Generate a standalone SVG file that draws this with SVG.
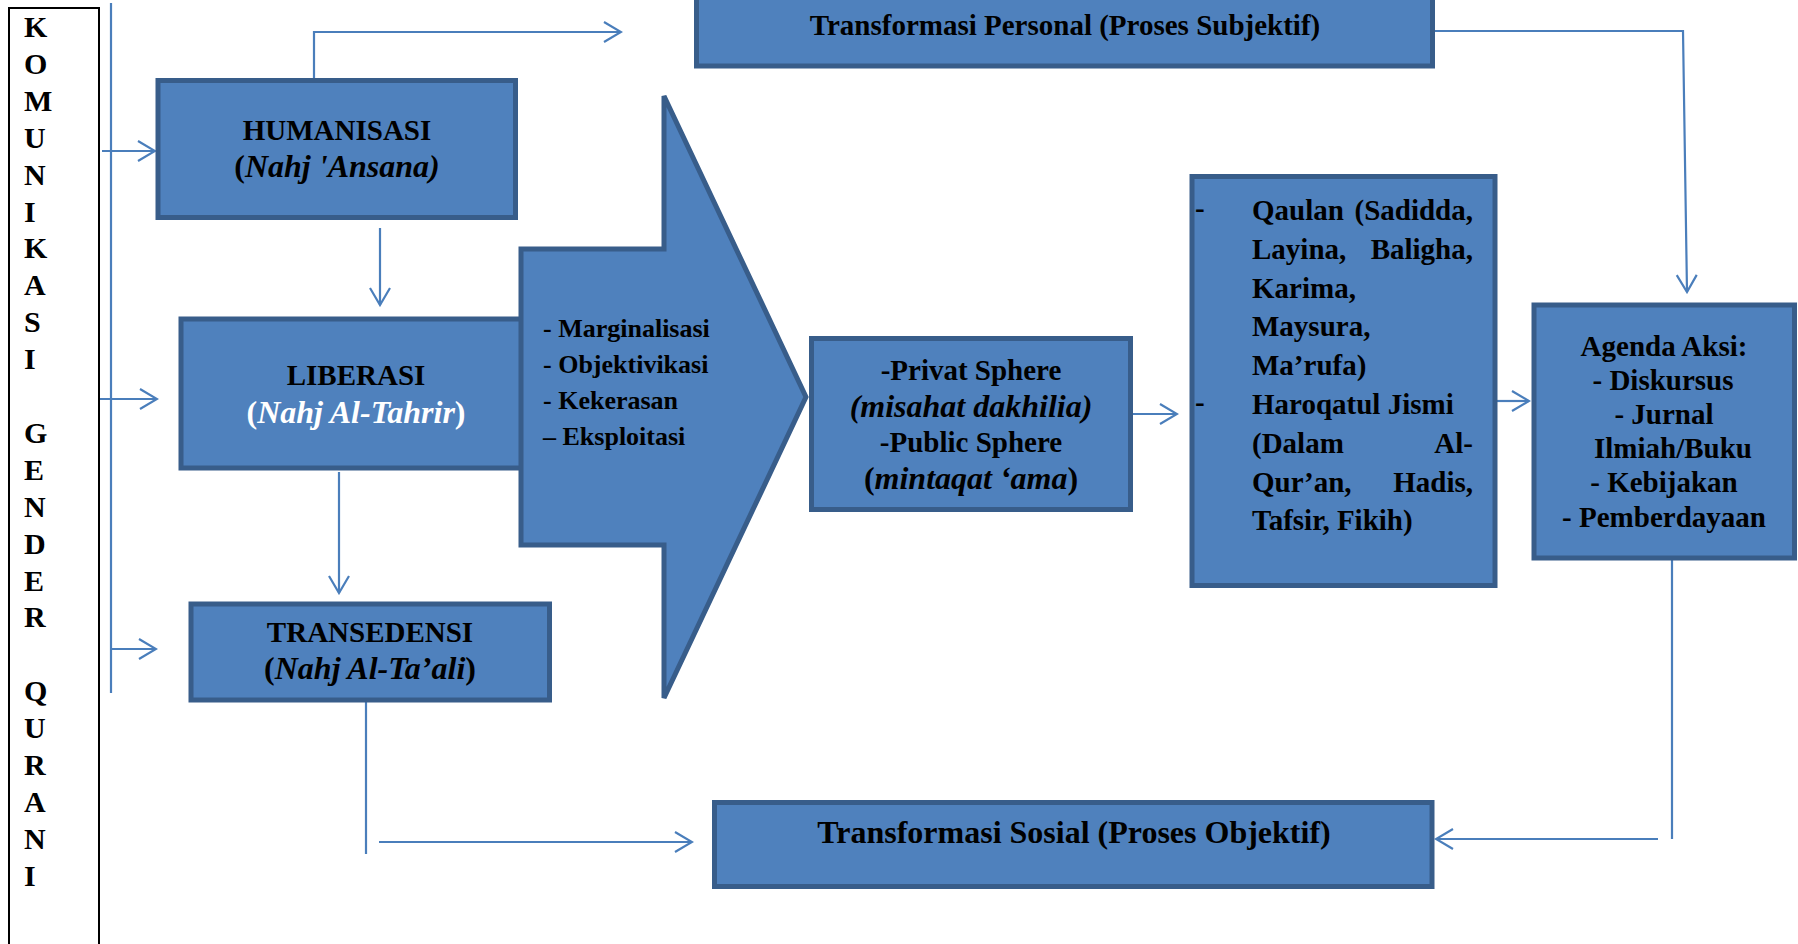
<svg xmlns="http://www.w3.org/2000/svg" width="1798" height="944" viewBox="0 0 1798 944">
<style>
.box{fill:#4F81BD;stroke:#385D8A;stroke-width:5}
.con{fill:none;stroke:#4A7EBB;stroke-width:2.2}
.t{font-family:"Liberation Serif","Times New Roman",serif;font-weight:bold;fill:#000}
.c{text-anchor:middle}
.e{text-anchor:end}
.i{font-style:italic}
.v{font-size:30px}
</style>
<defs>
<marker id="arr" viewBox="-20 -12 22 24" refX="0" refY="0" markerWidth="22" markerHeight="24" markerUnits="userSpaceOnUse" orient="auto">
<path d="M-17,-10 L0,0 L-17,10" fill="none" stroke="#4A7EBB" stroke-width="2.2"/>
</marker>
</defs>
<rect width="1798" height="944" fill="#fff"/>

<g id="side-label">
<rect x="9" y="8" width="90" height="960" fill="none" stroke="#000" stroke-width="2"/>
<text class="t v" x="24" y="37">K</text>
<text class="t v" x="24" y="73.9">O</text>
<text class="t v" x="24" y="110.8">M</text>
<text class="t v" x="24" y="147.7">U</text>
<text class="t v" x="24" y="184.6">N</text>
<text class="t v" x="24" y="221.5">I</text>
<text class="t v" x="24" y="258.4">K</text>
<text class="t v" x="24" y="295.3">A</text>
<text class="t v" x="24" y="332.2">S</text>
<text class="t v" x="24" y="369.1">I</text>
<text class="t v" x="24" y="442.9">G</text>
<text class="t v" x="24" y="479.8">E</text>
<text class="t v" x="24" y="516.7">N</text>
<text class="t v" x="24" y="553.6">D</text>
<text class="t v" x="24" y="590.5">E</text>
<text class="t v" x="24" y="627.4">R</text>
<text class="t v" x="24" y="701.2">Q</text>
<text class="t v" x="24" y="738.1">U</text>
<text class="t v" x="24" y="775">R</text>
<text class="t v" x="24" y="811.9">A</text>
<text class="t v" x="24" y="848.8">N</text>
<text class="t v" x="24" y="885.7">I</text>
</g>

<g id="connectors">
<line class="con" x1="111" y1="3" x2="111" y2="693"/>
<line class="con" x1="102" y1="151" x2="155" y2="151" marker-end="url(#arr)"/>
<line class="con" x1="100" y1="399" x2="157" y2="399" marker-end="url(#arr)"/>
<line class="con" x1="111" y1="649" x2="156" y2="649" marker-end="url(#arr)"/>
<line class="con" x1="380" y1="228" x2="380" y2="305" marker-end="url(#arr)"/>
<line class="con" x1="339" y1="472" x2="339" y2="593" marker-end="url(#arr)"/>
<path class="con" d="M314,78 V32 H621" marker-end="url(#arr)"/>
<path class="con" d="M1435,31 H1683 L1687,292" marker-end="url(#arr)"/>
<line class="con" x1="1133" y1="414" x2="1177" y2="414" marker-end="url(#arr)"/>
<line class="con" x1="1497" y1="401" x2="1529" y2="401" marker-end="url(#arr)"/>
<line class="con" x1="1672" y1="560" x2="1672" y2="839"/>
<line class="con" x1="1658" y1="839" x2="1436" y2="839" marker-end="url(#arr)"/>
<line class="con" x1="366" y1="702" x2="366" y2="854"/>
<line class="con" x1="379" y1="842" x2="692" y2="842" marker-end="url(#arr)"/>
</g>

<g id="personal">
<rect class="box" x="696.5" y="-10" width="736" height="76"/>
<text class="t c" x="1065" y="35" font-size="29">Transformasi Personal (Proses Subjektif)</text>
</g>

<g id="humanisasi">
<rect class="box" x="158" y="80.5" width="357.5" height="137"/>
<text class="t c" x="337" y="140" font-size="29">HUMANISASI</text>
<text class="t c" x="337" y="177" font-size="32">(<tspan class="i">Nahj 'Ansana)</tspan></text>
</g>

<g id="liberasi">
<rect class="box" x="181" y="319" width="352" height="149"/>
<text class="t c" x="356" y="385" font-size="29">LIBERASI</text>
<text class="t c" x="356" y="423" font-size="32" style="fill:#fff">(<tspan class="i">Nahj Al-Tahrir</tspan>)</text>
</g>

<g id="transedensi">
<rect class="box" x="191" y="604" width="358.5" height="96"/>
<text class="t c" x="370" y="642" font-size="29">TRANSEDENSI</text>
<text class="t c" x="370" y="679" font-size="32">(<tspan class="i">Nahj Al-Ta’ali</tspan>)</text>
</g>

<g id="problems">
<polygon class="box" points="521,249 664,249 664,96 806,397 664,698 664,545 521,545"/>
<text class="t" x="543" y="337" font-size="26">- Marginalisasi</text>
<text class="t" x="543" y="373" font-size="26">- Objektivikasi</text>
<text class="t" x="543" y="409" font-size="26">- Kekerasan</text>
<text class="t" x="543" y="445" font-size="26">– Eksploitasi</text>
</g>

<g id="sphere">
<rect class="box" x="811.5" y="338.5" width="319" height="171"/>
<text class="t c" x="971" y="380" font-size="29">-Privat Sphere</text>
<text class="t c i" x="971" y="417" font-size="32">(misahat dakhilia)</text>
<text class="t c" x="971" y="452" font-size="29">-Public Sphere</text>
<text class="t c" x="971" y="489" font-size="32">(<tspan class="i">mintaqat ‘ama</tspan>)</text>
</g>

<g id="qaulan">
<rect class="box" x="1192" y="176.5" width="303" height="409"/>
<g font-size="29">
<text class="t" x="1195" y="218">-</text>
<text class="t" x="1252" y="220">Qaulan</text>
<text class="t e" x="1473" y="220">(Sadidda,</text>
<text class="t" x="1252" y="258.8">Layina,</text>
<text class="t e" x="1473" y="258.8">Baligha,</text>
<text class="t" x="1252" y="297.6">Karima,</text>
<text class="t" x="1252" y="336.4">Maysura,</text>
<text class="t" x="1252" y="375.2">Ma’rufa)</text>
<text class="t" x="1195" y="412">-</text>
<text class="t" x="1252" y="414">Haroqatul Jismi</text>
<text class="t" x="1252" y="452.8">(Dalam</text>
<text class="t e" x="1473" y="452.8">Al-</text>
<text class="t" x="1252" y="491.6">Qur’an,</text>
<text class="t e" x="1473" y="491.6">Hadis,</text>
<text class="t" x="1252" y="530.4">Tafsir, Fikih)</text>
</g>
</g>

<g id="agenda">
<rect class="box" x="1534" y="305" width="260.5" height="253"/>
<g font-size="29">
<text class="t c" x="1664" y="356">Agenda Aksi:</text>
<text class="t c" x="1663" y="390">- Diskursus</text>
<text class="t c" x="1664" y="424">- Jurnal</text>
<text class="t c" x="1673" y="458">Ilmiah/Buku</text>
<text class="t c" x="1664" y="492">- Kebijakan</text>
<text class="t c" x="1664" y="527">- Pemberdayaan</text>
</g>
</g>

<g id="sosial">
<rect class="box" x="714.5" y="802.5" width="717.5" height="84"/>
<text class="t c" x="1074" y="843" font-size="32">Transformasi Sosial (Proses Objektif)</text>
</g>
</svg>
